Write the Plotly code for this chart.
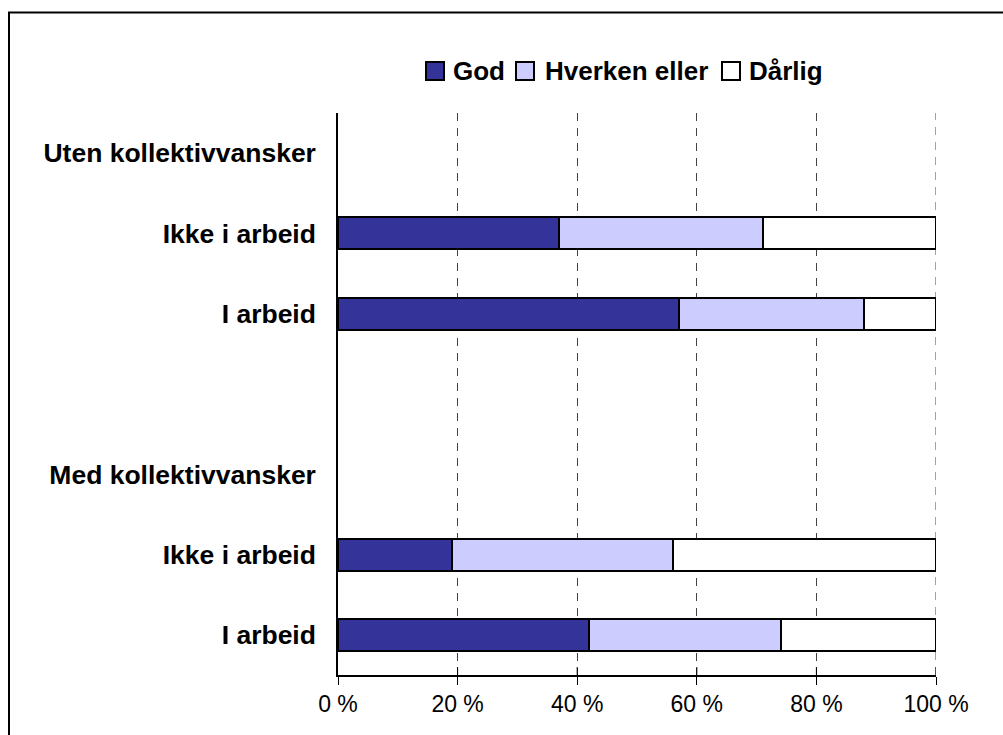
import plotly.graph_objects as go

# Rows of the chart (top to bottom); header rows and the spacer carry no bars
categories = ["Uten kollektivvansker", "Ikke i arbeid", "I arbeid", "",
              "Med kollektivvansker", "Ikke i arbeid", "I arbeid"]

series_names = ["God", "Hverken eller", "Dårlig"]
god = [None, 37, 57, None, None, 19, 42]
hverken = [None, 34, 31, None, None, 37, 32]
darlig = [None, 29, 12, None, None, 44, 26]

x_ticks = [0, 20, 40, 60, 80, 100]
x_tick_labels = ["0 %", "20 %", "40 %", "60 %", "80 %", "100 %"]

colors = ["#333399", "#CCCCFF", "#FFFFFF"]
FONT = "Liberation Sans, Arial, Helvetica, sans-serif"

W, H = 1003, 735
ML, MR, MT, MB = 338, 67, 113, 60
PW, PH = W - ML - MR, H - MT - MB


def px_x(p):
    return (p - ML) / PW


def px_y(p):
    return (H - MB - p) / PH


rows = list(range(len(categories)))

fig = go.Figure()
for name, vals, col in zip(series_names, [god, hverken, darlig], colors):
    fig.add_trace(go.Bar(
        y=rows, x=vals, name=name, orientation="h",
        marker=dict(color=col, line=dict(color="black", width=2)),
        width=0.4, showlegend=False,
    ))

shapes = []
annotations = []

# Outer frame of the figure
shapes.append(dict(type="rect", xref="paper", yref="paper",
                   x0=px_x(9), x1=px_x(1015), y0=px_y(750), y1=px_y(12.5),
                   line=dict(color="black", width=2), fillcolor="rgba(0,0,0,0)",
                   layer="below"))

# Dashed gridline at the right end of the value axis
shapes.append(dict(type="line", xref="x", yref="paper",
                   x0=x_ticks[-1], x1=x_ticks[-1], y0=0, y1=1,
                   line=dict(color="#444444", width=1, dash="8px,7px"),
                   layer="below"))

# Short tick marks above the value axis (ticks cross the axis line)
for t in x_ticks[1:]:
    shapes.append(dict(type="line", xref="x", yref="paper",
                       x0=t, x1=t, y0=0, y1=8 / PH,
                       line=dict(color="black", width=1)))

# Legend row: square swatch + bold label
legend_items = [(426, 451), (516, 543), (722, 747)]
for (sx, tx), name, col in zip(legend_items, series_names, colors):
    shapes.append(dict(type="rect", xref="paper", yref="paper",
                       x0=px_x(sx), x1=px_x(sx + 18), y0=px_y(80), y1=px_y(62),
                       line=dict(color="black", width=2), fillcolor=col))
    annotations.append(dict(text=name, xref="paper", yref="paper",
                            x=px_x(tx), y=px_y(71), xanchor="left", yanchor="middle",
                            showarrow=False,
                            font=dict(family=FONT, size=26, color="black", weight="bold")))

fig.update_layout(
    width=W, height=H,
    margin=dict(l=ML, r=MR, t=MT, b=MB),
    paper_bgcolor="white", plot_bgcolor="white",
    barmode="stack", bargap=0,
    shapes=shapes, annotations=annotations,
    showlegend=False,
    xaxis=dict(
        range=[0, 100], tickvals=x_ticks, ticktext=x_tick_labels,
        showgrid=True, gridcolor="#444444", gridwidth=1, griddash="8px,7px",
        showline=True, linecolor="black", linewidth=1.5,
        ticks="outside", ticklen=8, tickcolor="black", tickwidth=1,
        zeroline=False,
        tickfont=dict(family=FONT, size=23, color="black"),
        fixedrange=True,
    ),
    yaxis=dict(
        range=[len(categories) - 0.5, -0.5],
        tickvals=rows, ticktext=categories,
        showgrid=False, zeroline=False,
        showline=True, linecolor="black", linewidth=1.5,
        ticks="", ticklabelstandoff=15,
        tickfont=dict(family=FONT, size=26.5, color="black", weight="bold"),
        fixedrange=True,
    ),
)

fig.write_html("out.html")
